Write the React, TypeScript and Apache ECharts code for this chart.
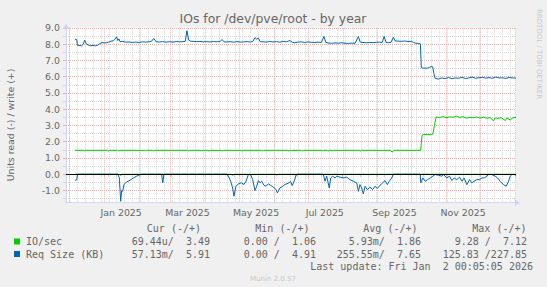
import React, { useEffect, useRef } from 'react';
import * as echarts from 'echarts';

// ---- time frame (400 days ending at last update) ----
const START_MS = Date.UTC(2024, 10, 28, 0, 5, 5);
const END_DAY = 400;

// ---- tick labels ----
const xTickLabels = ['Jan 2025', 'Mar 2025', 'May 2025', 'Jul 2025', 'Sep 2025', 'Nov 2025'];
const xTickMonths: [number, number][] = [[2025, 0], [2025, 2], [2025, 4], [2025, 6], [2025, 8], [2025, 10]];
const yTickValues = [-1, 0, 1, 2, 3, 4, 5, 6, 7, 8, 9];

// ---- series: [day since start, value] ----
const ioSecWrite: [number, number][] = [
  [8, 1.47], [16, 1.47], [16.6, 1.43], [17.5, 1.47], [37, 1.47], [37.9, 1.43], [39, 1.47], [46, 1.47], [46.8, 1.43], [48, 1.47],
  [70, 1.47], [70.5, 1.43], [71.5, 1.47], [77, 1.47], [77.9, 1.43], [79, 1.47], [108, 1.47], [109, 1.43], [110, 1.47],
  [120, 1.47], [120.9, 1.43], [122, 1.47], [126, 1.47], [126.8, 1.43], [128, 1.47], [138, 1.47], [138.7, 1.43], [140, 1.47],
  [155.5, 1.47], [156.4, 1.43], [157.5, 1.47], [173.5, 1.47], [174.2, 1.43], [175.5, 1.47], [197, 1.47], [197.9, 1.43], [199, 1.47],
  [209, 1.47], [209.8, 1.43], [211, 1.47], [226.8, 1.47], [227.6, 1.43], [228.6, 1.47], [232.7, 1.47], [233.5, 1.43], [234.5, 1.47],
  [261, 1.47], [261.6, 1.43], [262.6, 1.47], [288.5, 1.47], [289.8, 1.36], [291, 1.44], [292, 1.47], [315.3, 1.47],
  [316.5, 2.38], [318, 2.44], [321, 2.45], [324, 2.43], [326, 2.46], [327.5, 3.0], [329, 3.52], [332, 3.48], [335, 3.55],
  [338, 3.47], [341, 3.53], [344, 3.5], [347, 3.56], [350, 3.49], [353, 3.54], [356, 3.45], [359, 3.5], [362, 3.47],
  [365, 3.52], [368, 3.45], [371, 3.5], [374, 3.44], [377, 3.48], [380, 3.28], [381.5, 3.46], [384, 3.44], [387, 3.47],
  [390.5, 3.3], [392, 3.46], [395, 3.33], [397, 3.47], [400, 3.49],
];
const ioSecRead: [number, number][] = [
  [8, 0], [47, 0], [48.6, -0.06], [50, 0], [147, 0], [148.1, -0.06], [149.5, 0], [186, 0], [187.4, -0.05], [189, 0], [400, 0],
];
const reqSizeWrite: [number, number][] = [
  [8, 8.3], [9.5, 8.28], [10.2, 7.92], [14, 7.9], [15.5, 8.0], [16.5, 8.25], [18, 8.02], [20, 7.93], [22, 7.9], [24, 7.92],
  [26, 7.89], [28, 7.93], [30, 8.02], [32, 8.1], [34, 8.07], [36, 8.09], [38, 8.12], [40, 8.18], [42, 8.2], [43.5, 8.3],
  [45, 8.45], [46, 8.22], [47, 8.32], [48, 8.15], [50, 8.17], [53, 8.12], [56, 8.13], [59, 8.1], [62, 8.12], [65, 8.1],
  [68, 8.14], [71, 8.12], [74, 8.15], [76, 8.17], [78, 8.35], [80, 8.15], [83, 8.13], [86, 8.15], [89, 8.12], [92, 8.15],
  [95, 8.12], [98, 8.16], [101, 8.14], [104, 8.15], [106, 8.17], [107.5, 8.82], [109, 8.25], [110.5, 8.18], [113, 8.17],
  [116, 8.15], [119, 8.16], [122, 8.14], [125, 8.15], [128, 8.13], [131, 8.16], [134, 8.14], [137, 8.16], [138.7, 8.28],
  [140.5, 8.14], [143, 8.13], [146, 8.15], [149, 8.12], [152, 8.15], [155, 8.12], [158, 8.14], [161, 8.15], [164, 8.13],
  [166, 8.16], [168, 8.4], [169.5, 8.3], [171, 8.38], [172.5, 8.15], [175, 8.14], [178, 8.12], [181, 8.16], [184, 8.13],
  [187, 8.15], [190, 8.12], [193, 8.16], [196, 8.14], [199, 8.22], [201, 8.12], [203, 8.08], [206, 8.12], [209, 8.14],
  [212, 8.1], [215, 8.13], [218, 8.11], [221, 8.1], [224, 8.12], [227, 8.1], [229.3, 8.47], [231, 8.1], [233, 8.07],
  [236, 8.05], [239, 8.07], [242, 8.06], [245, 8.08], [248, 8.05], [251, 8.04], [254, 8.06], [257, 8.05], [259.9, 8.47],
  [261.5, 8.12], [264, 8.1], [267, 8.08], [270, 8.1], [273, 8.09], [276, 8.11], [279, 8.12], [281, 8.1], [282.8, 8.47],
  [284.5, 8.1], [287, 8.09], [289, 8.12], [291, 8.42], [292.5, 8.2], [295, 8.18], [298, 8.17], [301, 8.19], [304, 8.16],
  [307, 8.17], [309, 8.1], [311, 8.05], [313, 8.04], [315, 8.02], [315.8, 6.55], [318, 6.52], [321, 6.52], [323, 6.56],
  [324.5, 6.62], [326, 6.6], [327, 6.2], [328, 5.9], [331, 5.85], [334, 5.92], [337, 5.88], [340, 5.95], [343, 5.87],
  [346, 5.92], [349, 5.9], [352, 5.96], [355, 5.88], [358, 5.92], [361, 5.97], [364, 5.9], [367, 5.93], [370, 5.96],
  [373, 5.91], [376, 5.94], [379, 5.9], [382, 5.97], [385, 5.92], [388, 5.93], [391, 5.89], [394, 5.95], [397, 5.92], [400, 5.91],
];
const reqSizeRead: [number, number][] = [
  [8, -0.37], [9.5, -0.35], [10.3, 0], [46, 0], [47.4, -0.22], [48.6, -1.66], [49.5, -1.0], [50.4, -1.05], [51.6, -0.63],
  [53.9, -0.47], [56.9, -0.37], [59.9, -0.23], [62.8, -0.12], [65.8, -0.02], [67, 0], [85, 0], [86, -0.53], [87, 0],
  [143, 0], [144.3, -0.12], [146.4, -0.43], [148.1, -0.84], [149.3, -1.35], [151.1, -0.74], [153.2, -0.59], [156.1, -0.53],
  [158.2, -0.63], [160, -0.43], [162.1, -0.02], [164.1, -0.02], [165.9, -0.33], [168, -1.0], [169.5, -0.74], [171, -0.39],
  [172.4, -0.53], [173.9, -0.43], [176, -0.68], [177.8, -0.74], [179.9, -0.59], [181.9, -0.68], [184.3, -0.8], [186.7, -0.94],
  [187.9, -1.15], [190.2, -0.84], [192.6, -0.74], [194.7, -0.63], [197.6, -0.55], [199.7, -0.45], [201, -0.7], [203, -0.4],
  [204.5, -0.05], [206, 0], [228.7, 0], [230.2, -0.43], [231.7, -0.12], [234, -0.84], [235.3, -0.23], [237, -0.12],
  [239.1, -0.23], [240.6, -0.12], [243.6, -0.18], [246.5, -0.23], [249.5, -0.18], [252.4, -0.33], [255.4, -0.43],
  [258.4, -0.53], [259.9, -1.05], [261.3, -0.64], [262.8, -0.84], [264.3, -1.21], [265.8, -0.74], [267.9, -0.94],
  [270.2, -0.8], [272.6, -0.94], [274.7, -0.74], [276.7, -0.88], [279.1, -0.68], [281.5, -0.53], [283.6, -0.39],
  [285.6, -0.64], [287.4, -0.43], [289.5, -0.23], [291, 0], [314.8, 0], [315.4, -0.53], [317.2, -0.23], [319.3, -0.43],
  [321.4, -0.33], [323.7, -0.23], [326.1, -0.12], [328.1, -0.02], [331.1, -0.06], [334.1, -0.12], [335.6, -0.02],
  [338.5, -0.23], [340.9, -0.12], [343, -0.39], [345, -0.23], [347.4, -0.33], [349.8, -0.18], [351.9, -0.43], [353.9, -0.23],
  [356.3, -0.64], [358.7, -0.33], [360.7, -0.53], [362.8, -0.43], [365.2, -0.33], [367.6, -0.33], [369.6, -0.23],
  [371.7, -0.23], [374.1, -0.12], [375.6, -0.02], [378.5, -0.02], [381.5, -0.12], [383.6, -0.23], [385.9, -0.43],
  [388.9, -0.64], [391.3, -0.74], [393.4, -0.43], [394.8, -0.12], [396.3, -0.02], [398.4, -0.02], [400, -0.06],
];

// ---- legend table texts ----
const legendHeaders = ['Cur (-/+)', 'Min (-/+)', 'Avg (-/+)', 'Max (-/+)'];
const seriesNames = ['IO/sec', 'Req Size (KB)'];
const ioSecCells = ['69.44u/  3.49', '0.00 /  1.06', '5.93m/  1.86', '9.28 /  7.12'];
const reqSizeCells = ['57.13m/  5.91', '0.00 /  4.91', '255.55m/  7.65', '125.83 /227.85'];
const lastUpdate = 'Last update: Fri Jan  2 00:05:05 2026';

const GREEN = '#00CC00';
const BLUE = '#0066B3';
const FONT = '#666666';
const AXIS = '#CFD6F8';
const MINOR = '#D6D6D6';
const MAJOR = '#F0B0B0';

const dayOf = (y: number, m: number, d: number) => (Date.UTC(y, m, d) - START_MS) / 86400000;

export default function App() {
  const ref = useRef<HTMLDivElement>(null);
  useEffect(() => {
    document.body.style.margin = '0';
    if (!ref.current) return;
    const chart = echarts.init(ref.current, undefined, { renderer: 'svg' });

    // grid lines from the calendar
    const monthLines: number[] = [];
    for (let y = 2024, m = 11; ; ) {
      const d = dayOf(y, m, 1);
      if (d > END_DAY) break;
      if (d >= 0) monthLines.push(d);
      m++;
      if (m > 11) { m = 0; y++; }
    }
    const weekLines: number[] = [];
    for (let d = dayOf(2024, 11, 1); d <= END_DAY; d += 7) weekLines.push(d);
    const hMinor: number[] = [];
    const hMajor: number[] = [];
    for (let v = -1.5; v <= 9; v += 0.5) {
      if (Math.abs(v - Math.round(v)) < 1e-6) hMajor.push(v); else hMinor.push(v);
    }

    const labelPos = xTickMonths.map(([y, m]) => dayOf(y, m, 16));
    const labelMap = new Map<number, string>();
    labelPos.forEach((p, i) => labelMap.set(p, xTickLabels[i]));

    const lineSeries = (name: string, data: [number, number][], color: string, z: number) => ({
      name, type: 'line', data, showSymbol: false, symbol: 'none', z,
      lineStyle: { color, width: 1 }, itemStyle: { color }, silent: true,
    });

    const mono = 'DejaVu Sans Mono';
    const valueRight = [210, 316, 421, 527];
    const headerRight = [201, 309.5, 417.5, 526.5];
    const graphic: any[] = [
      { type: 'text', x: 273, y: 18, style: { text: 'IOs for /dev/pve/root - by year', fill: FONT, fontSize: 12.4, fontFamily: 'DejaVu Sans', textAlign: 'center', align: 'center', textVerticalAlign: 'middle', verticalAlign: 'middle' } },
      { type: 'text', x: 10, y: 125, rotation: Math.PI / 2, style: { text: 'Units read (-) / write (+)', fill: FONT, fontSize: 9.4, fontFamily: 'DejaVu Sans', textAlign: 'center', align: 'center', textVerticalAlign: 'middle', verticalAlign: 'middle' } },
      { type: 'text', x: 539, y: 54, rotation: -Math.PI / 2, style: { text: 'RRDTOOL / TOBI OETIKER', fill: '#C8C8C8', fontSize: 7, fontFamily: 'DejaVu Sans', textAlign: 'center', align: 'center', textVerticalAlign: 'middle', verticalAlign: 'middle' } },
      { type: 'text', x: 273, y: 279, style: { text: 'Munin 2.0.57', fill: '#C8C8C8', fontSize: 7, fontFamily: 'DejaVu Sans', textAlign: 'center', align: 'center', textVerticalAlign: 'middle', verticalAlign: 'middle' } },
      { type: 'text', x: 533, y: 266, style: { text: lastUpdate, fill: FONT, fontSize: 10, fontFamily: mono, textAlign: 'right', align: 'right', textVerticalAlign: 'middle', verticalAlign: 'middle' } },
      { type: 'rect', shape: { x: 14, y: 238.5, width: 6, height: 6 }, style: { fill: GREEN } },
      { type: 'rect', shape: { x: 14, y: 251, width: 6, height: 6 }, style: { fill: BLUE } },
    ];
    legendHeaders.forEach((t, i) => graphic.push({ type: 'text', x: headerRight[i], y: 228, style: { text: t, fill: FONT, fontSize: 10, fontFamily: mono, textAlign: 'right', align: 'right', textVerticalAlign: 'middle', verticalAlign: 'middle' } }));
    [ioSecCells, reqSizeCells].forEach((row, r) => {
      const y = r === 0 ? 241.5 : 254;
      graphic.push({ type: 'text', x: 26, y, style: { text: seriesNames[r], fill: FONT, fontSize: 10, fontFamily: mono, textAlign: 'left', align: 'left', textVerticalAlign: 'middle', verticalAlign: 'middle' } });
      row.forEach((t, i) => graphic.push({ type: 'text', x: valueRight[i], y, style: { text: t, fill: FONT, fontSize: 10, fontFamily: mono, textAlign: 'right', align: 'right', textVerticalAlign: 'middle', verticalAlign: 'middle' } }));
    });

    const ml = (vals: number[], key: 'xAxis' | 'yAxis', color: string, z: number) => ({
      silent: true, z, symbol: ['none', 'none'], label: { show: false },
      lineStyle: { color, width: 1, type: [1, 1] as any },
      data: vals.map((v) => ({ [key]: v })),
    });

    const tickOnlyX = (vals: number[], color: string) => ({
      type: 'value', min: 0, max: END_DAY, position: 'bottom', gridIndex: 0,
      axisLine: { show: false }, splitLine: { show: false }, axisLabel: { show: false },
      axisTick: { show: true, customValues: vals, length: 3, lineStyle: { color, width: 1 } },
    });
    const tickOnlyY = (vals: number[], color: string) => ({
      type: 'value', min: -1.75, max: 9.02, position: 'left', gridIndex: 0,
      axisLine: { show: false }, splitLine: { show: false }, axisLabel: { show: false },
      axisTick: { show: true, customValues: vals, length: 3, lineStyle: { color, width: 1 } },
    });

    chart.setOption({
      animation: false,
      backgroundColor: '#F0F0F0',
      grid: { left: 66, right: 31, top: 27.5, bottom: 84.3, show: true, backgroundColor: '#FFFFFF', borderWidth: 0, containLabel: false },
      xAxis: [
        {
          type: 'value', min: 0, max: END_DAY, position: 'bottom',
          axisLine: { show: true, onZero: false, lineStyle: { color: AXIS, width: 1 }, symbol: ['none', 'arrow'], symbolSize: [6, 6], symbolOffset: [0, 4] },
          axisTick: { show: false },
          splitLine: { show: false },
          axisLabel: {
            customValues: labelPos, color: FONT, fontSize: 9.4, fontFamily: 'DejaVu Sans', margin: 5,
            formatter: (v: number) => labelMap.get(v) ?? '',
          },
        },
        tickOnlyX(weekLines, MINOR),
        tickOnlyX(monthLines, MAJOR),
      ],
      yAxis: [
        {
          type: 'value', min: -1.75, max: 9.02, position: 'left',
          axisLine: { show: true, onZero: false, lineStyle: { color: AXIS, width: 1 }, symbol: ['none', 'arrow'], symbolSize: [6, 6], symbolOffset: [0, 4] },
          axisTick: { show: false },
          splitLine: { show: false },
          axisLabel: {
            customValues: yTickValues, color: FONT, fontSize: 9.4, fontFamily: 'DejaVu Sans', margin: 6,
            formatter: (v: number) => v.toFixed(1),
          },
        },
        tickOnlyY(hMinor, MINOR),
        tickOnlyY(hMajor, MAJOR),
      ],
      graphic,
      series: [
        { type: 'line', data: [], z: 1, silent: true, markLine: ml(weekLines, 'xAxis', MINOR, 1) },
        { type: 'line', data: [], z: 1, silent: true, markLine: ml(hMinor, 'yAxis', MINOR, 1) },
        { type: 'line', data: [], z: 1, silent: true, markLine: ml(monthLines, 'xAxis', MAJOR, 1.1) },
        { type: 'line', data: [], z: 1, silent: true, markLine: ml(hMajor, 'yAxis', MAJOR, 1.1) },
        lineSeries('IO/sec read', ioSecRead, GREEN, 2),
        lineSeries('IO/sec write', ioSecWrite, GREEN, 2),
        lineSeries('Req Size read', reqSizeRead, BLUE, 3),
        lineSeries('Req Size write', reqSizeWrite, BLUE, 3),
        {
          type: 'line', data: [], z: 10, silent: true,
          markLine: { silent: true, z: 10, symbol: ['none', 'none'], label: { show: false }, lineStyle: { color: '#000000', width: 1, type: 'solid' }, data: [{ yAxis: 0 }] },
        },
      ],
    });
    return () => chart.dispose();
  }, []);
  return <div ref={ref} style={{ width: 547, height: 287, background: '#F0F0F0' }} />;
}
